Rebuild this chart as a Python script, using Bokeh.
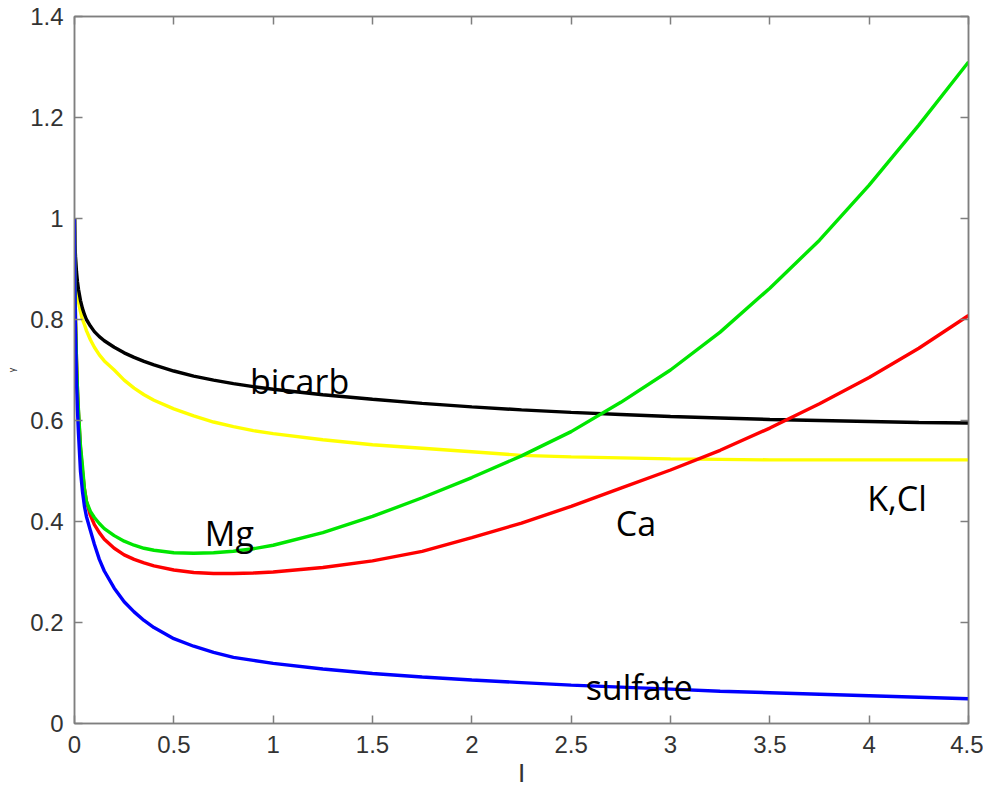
from bokeh.plotting import figure
from bokeh.models import Range1d, LinearAxis, FixedTicker
from bokeh.core.properties import value
from bokeh.embed import file_html
from bokeh.resources import INLINE

# ---- data ----
ionic_strength = [0, 0.002, 0.005, 0.01, 0.015, 0.02, 0.03, 0.04, 0.05, 0.06, 0.08, 0.1, 0.125, 0.15,
                  0.2, 0.25, 0.3, 0.35, 0.4, 0.5, 0.6, 0.7, 0.8, 0.9, 1.0, 1.25, 1.5, 1.75, 2.0,
                  2.25, 2.5, 2.75, 3.0, 3.25, 3.5, 3.75, 4.0, 4.25, 4.5]

bicarb = [1.0, 0.95, 0.925, 0.895, 0.875, 0.86, 0.838, 0.822, 0.81, 0.80, 0.787, 0.776, 0.766, 0.758,
          0.745, 0.734, 0.725, 0.717, 0.71, 0.698, 0.688, 0.68, 0.673, 0.667, 0.662, 0.651, 0.642, 0.634, 0.627,
          0.621, 0.616, 0.612, 0.608, 0.605, 0.602, 0.600, 0.598, 0.596, 0.595]
kcl = [1.0, 0.945, 0.91, 0.87, 0.85, 0.835, 0.815, 0.80, 0.79, 0.778, 0.76, 0.745, 0.73, 0.718,
       0.70, 0.68, 0.664, 0.651, 0.640, 0.623, 0.609, 0.597, 0.588, 0.58, 0.574, 0.562, 0.552, 0.545, 0.538,
       0.531, 0.528, 0.526, 0.524, 0.523, 0.522, 0.522, 0.522, 0.522, 0.522]
mg = [1.0, 0.88, 0.80, 0.72, 0.66, 0.62, 0.55, 0.51, 0.465, 0.44, 0.42, 0.408, 0.396, 0.386,
      0.372, 0.361, 0.353, 0.347, 0.343, 0.338, 0.337, 0.338, 0.341, 0.346, 0.353, 0.378, 0.41, 0.447, 0.487,
      0.53, 0.578, 0.636, 0.70, 0.775, 0.862, 0.957, 1.066, 1.185, 1.31]
ca = [1.0, 0.88, 0.80, 0.72, 0.66, 0.615, 0.545, 0.50, 0.465, 0.44, 0.412, 0.394, 0.378, 0.365,
      0.347, 0.334, 0.325, 0.318, 0.312, 0.304, 0.299, 0.297, 0.297, 0.298, 0.300, 0.309, 0.322, 0.341, 0.368,
      0.397, 0.43, 0.466, 0.502, 0.541, 0.585, 0.633, 0.685, 0.743, 0.808]
sulfate = [1.0, 0.86, 0.77, 0.68, 0.62, 0.575, 0.50, 0.46, 0.43, 0.41, 0.382, 0.355, 0.325, 0.302,
           0.268, 0.241, 0.221, 0.204, 0.19, 0.168, 0.153, 0.141, 0.131, 0.125, 0.119, 0.108, 0.099, 0.092, 0.086,
           0.081, 0.076, 0.072, 0.068, 0.064, 0.061, 0.058, 0.055, 0.052, 0.049]

x_ticks = [0, 0.5, 1, 1.5, 2, 2.5, 3, 3.5, 4, 4.5]
x_tick_labels = ["0", "0.5", "1", "1.5", "2", "2.5", "3", "3.5", "4", "4.5"]
y_ticks = [0, 0.2, 0.4, 0.6, 0.8, 1.0, 1.2, 1.4]
y_tick_labels = ["0", "0.2", "0.4", "0.6", "0.8", "1", "1.2", "1.4"]

label_text = ["bicarb", "Mg", "Ca", "K,Cl", "sulfate"]
label_x = [0.883, 0.656, 2.725, 3.99, 2.573]
label_y = [0.679, 0.377, 0.397, 0.446, 0.073]

x_title = "I"
y_title = "γ"

# ---- figure ----
AXIS_COLOR = "#7f7f7f"
TICK_TEXT = "#333333"

p = figure(width=983, height=797, x_range=Range1d(0, 4.5), y_range=Range1d(0, 1.4),
           output_backend="svg", toolbar_location=None,
           min_border_left=74, min_border_top=16, min_border_right=15, min_border_bottom=74)
p.background_fill_color = "white"
p.border_fill_color = "white"
p.grid.visible = False
p.outline_line_color = AXIS_COLOR
p.outline_line_width = 1.5

p.xaxis.axis_label = x_title
p.yaxis.axis_label = y_title

for ax, ticks, labels in ((p.xaxis[0], x_ticks, x_tick_labels), (p.yaxis[0], y_ticks, y_tick_labels)):
    ax.ticker = FixedTicker(ticks=ticks)
    ax.major_label_overrides = {t: l for t, l in zip(ticks, labels)}
    ax.major_label_text_font = "Liberation Sans"
    ax.major_label_text_font_size = "24px"
    ax.major_label_text_color = TICK_TEXT
    ax.axis_line_color = AXIS_COLOR
    ax.axis_line_width = 1.5
    ax.major_tick_line_color = AXIS_COLOR
    ax.major_tick_line_width = 1.5
    ax.major_tick_in = 8
    ax.major_tick_out = 0
    ax.minor_tick_line_color = None
    ax.axis_label_text_font = "Liberation Sans"
    ax.axis_label_text_font_style = "normal"
    ax.axis_label_text_color = TICK_TEXT

p.xaxis[0].major_label_standoff = 12
p.xaxis[0].axis_label_text_font_size = "26px"
p.xaxis[0].axis_label_standoff = 2
p.yaxis[0].major_label_standoff = 11
p.yaxis[0].axis_label_text_font_size = "9px"
p.yaxis[0].axis_label_standoff = 10

# box ticks on top and right (MATLAB style)
for loc, ticks in (("above", x_ticks), ("right", y_ticks)):
    ax = LinearAxis(ticker=FixedTicker(ticks=ticks))
    ax.major_label_text_font_size = "0px"
    ax.major_label_text_alpha = 0
    ax.major_label_standoff = 0
    ax.axis_line_color = AXIS_COLOR
    ax.axis_line_width = 1.5
    ax.major_tick_line_color = AXIS_COLOR
    ax.major_tick_line_width = 1.5
    ax.major_tick_in = 8
    ax.major_tick_out = 0
    ax.minor_tick_line_color = None
    p.add_layout(ax, loc)

# ---- curves ----
p.line(ionic_strength, kcl, line_color="#ffff00", line_width=3.4)
p.line(ionic_strength, bicarb, line_color="#000000", line_width=3.4)
p.line(ionic_strength, ca, line_color="#ff0000", line_width=3.4)
p.line(ionic_strength, mg, line_color="#00e600", line_width=3.4)
p.line(ionic_strength, sulfate, line_color="#0000ff", line_width=3.4)

p.text(x=label_x, y=label_y, text=label_text, text_font=value("Open Sans"),
       text_font_size="34px", text_color="#000000", text_align="left", text_baseline="alphabetic")

open("out.html", "w").write(file_html(p, INLINE))
